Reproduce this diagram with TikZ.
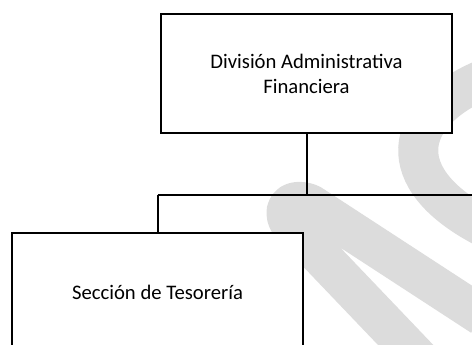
\documentclass[tikz,border=0pt]{standalone}
\usepackage{fontspec}
\setmainfont{Carlito}
\tikzset{every picture/.style={line width=0.75pt}}
\tikzset{
	orgbox/.style={draw={rgb, 255:red, 0; green, 0; blue, 0 }, line width=1.5pt, fill=white, minimum width=291*0.75pt, minimum height=119*0.75pt, inner sep=0.75pt, align=center, font=\fontsize{15.5}{18.75}\selectfont},
	orgline/.style={line width=1.5pt},
	watermark/.style={color={rgb, 255:red, 220; green, 220; blue, 220 }, line width=40*0.75pt}}

\begin{document}
\begin{tikzpicture}[x=0.75pt,y=0.75pt,yscale=-1,xscale=1]
	\useasboundingbox (0,0) rectangle (472,345);
	\clip (0,0) rectangle (472,345);
	
	%Curve Lines [id:watermarkA] 
	\draw [watermark] (482,80) .. controls (402,115) and (392,178) .. (482,226) ;
	%Curve Lines [id:watermarkB] 
	\draw [watermark, line join=round] (420,360) -- (292,226) .. controls (280,212) and (288,196) .. (310,204) -- (482,316) ;
	
	%Shape: Rectangle [id:top] 
	\node [orgbox] (div) at (306.5,73.5) {División Administrativa\\Financiera};
	%Shape: Rectangle [id:bottom] 
	\node [orgbox] (tes) at (157.5,292.5) {Sección de Tesorería};
	
	%Straight Lines [id:bus] 
	\coordinate (busR) at (472,195);
	\coordinate (busL) at (tes.north |- busR);
	\draw [orgline] (div.south) -- (div.south |- busR) ;
	\draw [orgline] (busL) -- (busR) ;
	\draw [orgline] (busL) -- (tes.north) ;
	
\end{tikzpicture}
\end{document}
